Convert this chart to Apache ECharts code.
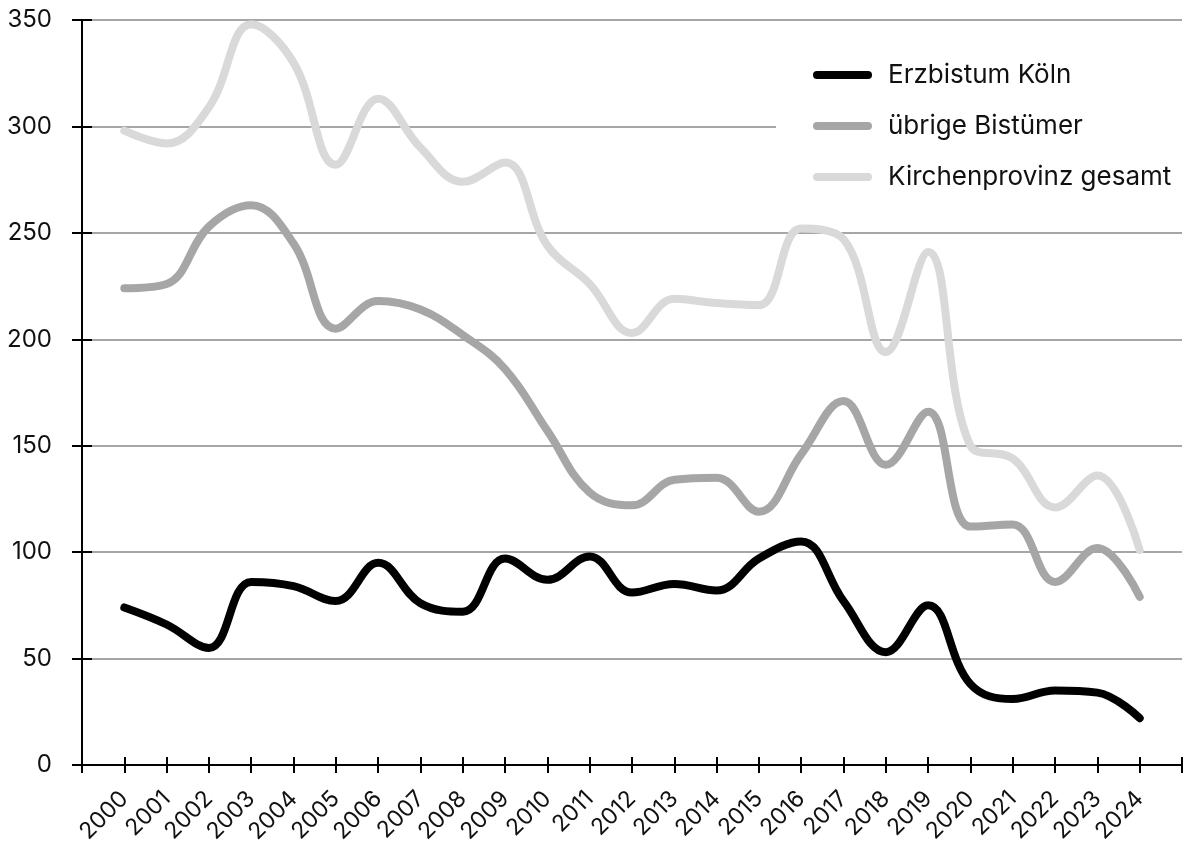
<!DOCTYPE html>
<html>
<head>
<meta charset="utf-8">
<script src="https://cdn.jsdelivr.net/npm/echarts@6/dist/echarts.min.js"></script>
<style>
  html, body { margin: 0; padding: 0; background: #fff; }
  #chart { width: 1188px; height: 843px; }
</style>
</head>
<body>
<div id="chart"></div>
<script>
const years = [2000, 2001, 2002, 2003, 2004, 2005, 2006, 2007, 2008, 2009, 2010, 2011, 2012,
  2013, 2014, 2015, 2016, 2017, 2018, 2019, 2020, 2021, 2022, 2023, 2024];
const koeln = [74, 66, 55, 86, 84, 77, 95, 76, 72, 97, 87, 98, 81, 85, 82, 97, 105, 77, 53, 75, 38, 31, 35, 34, 22];
const uebrige = [224, 226, 253, 263, 245, 205, 218, 214, 202, 186, 157, 128, 122, 134, 135, 119, 146, 171, 141, 166, 112, 113, 86, 102, 79];
const gesamt = [298, 292, 309, 348, 330, 282, 313, 290, 274, 283, 244, 226, 203, 219, 217, 216, 252, 247, 194, 241, 150, 144, 121, 136, 101];
const yTicks = [0, 50, 100, 150, 200, 250, 300, 350];

const font = "Inter, 'Noto Sans', sans-serif";
const pairs = (vals) => years.map((y, i) => [y, vals[i]]);

const chart = echarts.init(document.getElementById("chart"));

// legend icon: rounded bar
const bar = "path://M4,0 L55,0 A4,4 0 0 1 55,8 L4,8 A4,4 0 0 1 4,0 Z";

const mkSeries = (name, vals, color) => ({
  name: name,
  type: "line",
  data: pairs(vals),
  smooth: 0.4,
  showSymbol: false,
  symbol: "none",
  lineStyle: { color: color, width: 8, cap: "round", join: "round" },
  itemStyle: { color: color },
  emphasis: { disabled: true },
});

const option = {
  animation: false,
  backgroundColor: "#fff",
  grid: { left: 82, right: 6, top: 20, bottom: 78, outerBoundsMode: "none", containLabel: false },
  legend: {
    orient: "vertical",
    left: 776,
    top: 40,
    padding: [20, 30, 10, 37],
    backgroundColor: "#fff",
    itemWidth: 59,
    itemHeight: 8,
    itemGap: 21,
    icon: bar,
    data: ["Erzbistum Köln", "übrige Bistümer", "Kirchenprovinz gesamt"],
    textStyle: { fontFamily: font, fontSize: 26, color: "#111", padding: [0, 0, 0, 11], lineHeight: 30 },
  },
  xAxis: [
    {
      type: "value",
      min: 1999,
      max: 2025,
      interval: 1,
      axisLine: { show: true, onZero: false, lineStyle: { color: "#000", width: 2 } },
      axisTick: { show: true, length: 8, lineStyle: { color: "#000", width: 2 } },
      splitLine: { show: false },
      axisLabel: {
        rotate: 45,
        margin: 30,
        fontFamily: font,
        fontSize: 23,
        color: "#111",
        formatter: (v) => (v >= 2000 && v <= 2024 ? String(v) : ""),
      },
    },
    {
      type: "value",
      min: 1999,
      max: 2025,
      interval: 1,
      position: "bottom",
      axisLine: { show: false },
      axisTick: { show: true, inside: true, length: 8, lineStyle: { color: "#000", width: 2 } },
      splitLine: { show: false },
      axisLabel: { show: false },
    },
  ],
  yAxis: [
    {
      type: "value",
      min: 0,
      max: 350,
      interval: 50,
      axisLine: { show: true, lineStyle: { color: "#000", width: 2 } },
      axisTick: { show: true, length: 10, lineStyle: { color: "#000", width: 2 } },
      splitLine: { show: true, lineStyle: { color: "#888", width: 1.5 } },
      axisLabel: {
        margin: 30,
        fontFamily: font,
        fontSize: 24,
        color: "#111",
        formatter: (v) => (yTicks.includes(v) ? String(v) : ""),
      },
    },
    {
      type: "value",
      min: 0,
      max: 350,
      interval: 50,
      position: "left",
      axisLine: { show: false },
      axisTick: { show: true, inside: true, length: 10, lineStyle: { color: "#000", width: 2 } },
      splitLine: { show: false },
      axisLabel: { show: false },
    },
  ],
  series: [
    mkSeries("Kirchenprovinz gesamt", gesamt, "#d9d9d9"),
    mkSeries("übrige Bistümer", uebrige, "#a6a6a6"),
    mkSeries("Erzbistum Köln", koeln, "#000"),
  ],
};

chart.setOption(option);
</script>
</body>
</html>
